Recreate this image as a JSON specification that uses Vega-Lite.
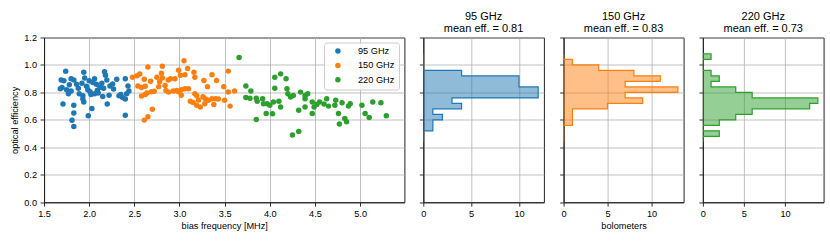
{
"$schema": "https://vega.github.io/schema/vega-lite/v6.json",
"padding": {"left": 10, "top": 9.5, "right": 5, "bottom": 5},
"spacing": 13.3,
"resolve": {"legend": {"color": "independent"}, "scale": {"color": "independent"}},
"config": {
  "font": "Liberation Sans",
  "view": {"stroke": "#222222", "strokeWidth": 1},
  "axis": {"labelFontSize": 9.2, "titleFontSize": 9.2, "titleFontWeight": "normal", "labelColor": "#000000", "titleColor": "#000000", "tickColor": "#000000", "tickSize": 4, "tickWidth": 0.8, "domain": true, "domainColor": "#222222", "domainWidth": 1.1, "gridColor": "#b0b0b0", "gridWidth": 0.8, "labelPadding": 3, "titlePadding": 3, "labelFlush": false, "minExtent": 0, "zindex": 1},
  "axisY": {"labelPadding": 3.5, "titlePadding": 4},
  "title": {"fontSize": 11, "fontWeight": "normal", "color": "#000000", "lineHeight": 12.5, "offset": 2.7}
},
"datasets": {
  "points": [
    {"band":"95 GHz","freq":1.74,"eff":0.954},{"band":"95 GHz","freq":1.94,"eff":0.946},{"band":"95 GHz","freq":2.17,"eff":0.95},{"band":"95 GHz","freq":2.18,"eff":0.925},
    {"band":"95 GHz","freq":1.69,"eff":0.89},{"band":"95 GHz","freq":1.72,"eff":0.885},{"band":"95 GHz","freq":1.80,"eff":0.90},{"band":"95 GHz","freq":1.83,"eff":0.89},{"band":"95 GHz","freq":2.00,"eff":0.885},{"band":"95 GHz","freq":2.06,"eff":0.90},{"band":"95 GHz","freq":2.195,"eff":0.89},{"band":"95 GHz","freq":2.305,"eff":0.895},{"band":"95 GHz","freq":2.40,"eff":0.90},{"band":"95 GHz","freq":1.95,"eff":0.905},
    {"band":"95 GHz","freq":1.86,"eff":0.86},{"band":"95 GHz","freq":1.92,"eff":0.866},{"band":"95 GHz","freq":1.97,"eff":0.845},{"band":"95 GHz","freq":2.08,"eff":0.86},{"band":"95 GHz","freq":2.14,"eff":0.866},{"band":"95 GHz","freq":2.23,"eff":0.846},{"band":"95 GHz","freq":2.43,"eff":0.846},{"band":"95 GHz","freq":1.78,"eff":0.855},{"band":"95 GHz","freq":2.04,"eff":0.872},{"band":"95 GHz","freq":2.26,"eff":0.862},
    {"band":"95 GHz","freq":1.68,"eff":0.827},{"band":"95 GHz","freq":1.75,"eff":0.82},{"band":"95 GHz","freq":1.80,"eff":0.81},{"band":"95 GHz","freq":1.985,"eff":0.82},{"band":"95 GHz","freq":2.01,"eff":0.805},{"band":"95 GHz","freq":2.16,"eff":0.83},{"band":"95 GHz","freq":1.70,"eff":0.835},{"band":"95 GHz","freq":1.88,"eff":0.83},{"band":"95 GHz","freq":2.09,"eff":0.815},{"band":"95 GHz","freq":2.12,"eff":0.838},{"band":"95 GHz","freq":2.27,"eff":0.825},{"band":"95 GHz","freq":2.44,"eff":0.81},
    {"band":"95 GHz","freq":1.89,"eff":0.79},{"band":"95 GHz","freq":2.06,"eff":0.79},{"band":"95 GHz","freq":2.10,"eff":0.795},{"band":"95 GHz","freq":2.15,"eff":0.77},{"band":"95 GHz","freq":2.35,"eff":0.785},{"band":"95 GHz","freq":2.37,"eff":0.763},{"band":"95 GHz","freq":2.415,"eff":0.79},{"band":"95 GHz","freq":1.77,"eff":0.79},{"band":"95 GHz","freq":1.93,"eff":0.775},{"band":"95 GHz","freq":2.02,"eff":0.785},{"band":"95 GHz","freq":2.22,"eff":0.78},{"band":"95 GHz","freq":2.33,"eff":0.775},
    {"band":"95 GHz","freq":1.93,"eff":0.752},{"band":"95 GHz","freq":1.94,"eff":0.73},{"band":"95 GHz","freq":2.40,"eff":0.752},
    {"band":"95 GHz","freq":1.71,"eff":0.715},{"band":"95 GHz","freq":1.83,"eff":0.707},{"band":"95 GHz","freq":2.03,"eff":0.683},{"band":"95 GHz","freq":2.20,"eff":0.715},
    {"band":"95 GHz","freq":1.83,"eff":0.65},{"band":"95 GHz","freq":1.99,"eff":0.63},{"band":"95 GHz","freq":2.40,"eff":0.634},{"band":"95 GHz","freq":1.81,"eff":0.597},{"band":"95 GHz","freq":1.83,"eff":0.551},
    {"band":"150 GHz","freq":3.05,"eff":1.03},
    {"band":"150 GHz","freq":2.65,"eff":0.985},{"band":"150 GHz","freq":2.81,"eff":0.99},{"band":"150 GHz","freq":3.09,"eff":0.975},{"band":"150 GHz","freq":2.99,"eff":0.962},
    {"band":"150 GHz","freq":2.56,"eff":0.934},{"band":"150 GHz","freq":2.80,"eff":0.94},{"band":"150 GHz","freq":3.01,"eff":0.925},{"band":"150 GHz","freq":3.06,"eff":0.928},{"band":"150 GHz","freq":3.16,"eff":0.947},{"band":"150 GHz","freq":3.36,"eff":0.928},{"band":"150 GHz","freq":3.54,"eff":0.955},{"band":"150 GHz","freq":2.53,"eff":0.922},
    {"band":"150 GHz","freq":2.48,"eff":0.91},{"band":"150 GHz","freq":2.61,"eff":0.895},{"band":"150 GHz","freq":2.75,"eff":0.91},{"band":"150 GHz","freq":2.81,"eff":0.905},{"band":"150 GHz","freq":2.90,"eff":0.90},{"band":"150 GHz","freq":2.95,"eff":0.90},{"band":"150 GHz","freq":3.17,"eff":0.91},{"band":"150 GHz","freq":2.875,"eff":0.89},{"band":"150 GHz","freq":3.27,"eff":0.887},{"band":"150 GHz","freq":3.41,"eff":0.887},{"band":"150 GHz","freq":2.68,"eff":0.882},
    {"band":"150 GHz","freq":2.54,"eff":0.846},{"band":"150 GHz","freq":2.62,"eff":0.845},{"band":"150 GHz","freq":2.77,"eff":0.842},{"band":"150 GHz","freq":2.84,"eff":0.85},{"band":"150 GHz","freq":2.78,"eff":0.878},{"band":"150 GHz","freq":3.31,"eff":0.842},{"band":"150 GHz","freq":3.49,"eff":0.842},
    {"band":"150 GHz","freq":2.69,"eff":0.805},{"band":"150 GHz","freq":2.72,"eff":0.808},{"band":"150 GHz","freq":2.85,"eff":0.814},{"band":"150 GHz","freq":2.88,"eff":0.802},{"band":"150 GHz","freq":2.97,"eff":0.814},{"band":"150 GHz","freq":3.06,"eff":0.826},{"band":"150 GHz","freq":3.10,"eff":0.826},{"band":"150 GHz","freq":3.02,"eff":0.82},{"band":"150 GHz","freq":3.54,"eff":0.803},{"band":"150 GHz","freq":3.61,"eff":0.81},{"band":"150 GHz","freq":2.93,"eff":0.81},{"band":"150 GHz","freq":2.99,"eff":0.804},{"band":"150 GHz","freq":2.58,"eff":0.835},
    {"band":"150 GHz","freq":2.58,"eff":0.773},{"band":"150 GHz","freq":2.62,"eff":0.785},{"band":"150 GHz","freq":3.02,"eff":0.78},{"band":"150 GHz","freq":3.17,"eff":0.79},{"band":"150 GHz","freq":3.19,"eff":0.778},{"band":"150 GHz","freq":3.26,"eff":0.768},{"band":"150 GHz","freq":2.64,"eff":0.795},
    {"band":"150 GHz","freq":3.12,"eff":0.735},{"band":"150 GHz","freq":3.285,"eff":0.754},{"band":"150 GHz","freq":3.32,"eff":0.742},{"band":"150 GHz","freq":3.36,"eff":0.754},{"band":"150 GHz","freq":3.40,"eff":0.754},{"band":"150 GHz","freq":3.43,"eff":0.752},{"band":"150 GHz","freq":3.50,"eff":0.742},{"band":"150 GHz","freq":3.21,"eff":0.745},{"band":"150 GHz","freq":3.15,"eff":0.726},
    {"band":"150 GHz","freq":3.19,"eff":0.706},{"band":"150 GHz","freq":3.23,"eff":0.694},{"band":"150 GHz","freq":3.28,"eff":0.718},{"band":"150 GHz","freq":3.56,"eff":0.70},{"band":"150 GHz","freq":3.38,"eff":0.712},
    {"band":"150 GHz","freq":2.70,"eff":0.678},{"band":"150 GHz","freq":2.65,"eff":0.622},{"band":"150 GHz","freq":2.61,"eff":0.598},
    {"band":"220 GHz","freq":3.66,"eff":1.055},
    {"band":"220 GHz","freq":4.12,"eff":0.935},
    {"band":"220 GHz","freq":4.055,"eff":0.91},{"band":"220 GHz","freq":4.18,"eff":0.90},
    {"band":"220 GHz","freq":3.735,"eff":0.846},
    {"band":"220 GHz","freq":3.79,"eff":0.81},{"band":"220 GHz","freq":4.055,"eff":0.83},{"band":"220 GHz","freq":4.19,"eff":0.826},{"band":"220 GHz","freq":4.34,"eff":0.802},
    {"band":"220 GHz","freq":4.20,"eff":0.79},{"band":"220 GHz","freq":4.23,"eff":0.766},{"band":"220 GHz","freq":4.26,"eff":0.778},{"band":"220 GHz","freq":4.39,"eff":0.778},{"band":"220 GHz","freq":4.42,"eff":0.79},{"band":"220 GHz","freq":3.735,"eff":0.762},
    {"band":"220 GHz","freq":3.78,"eff":0.758},{"band":"220 GHz","freq":3.85,"eff":0.757},{"band":"220 GHz","freq":3.86,"eff":0.735},{"band":"220 GHz","freq":3.92,"eff":0.754},{"band":"220 GHz","freq":4.04,"eff":0.73},{"band":"220 GHz","freq":4.10,"eff":0.735},{"band":"220 GHz","freq":4.39,"eff":0.754},{"band":"220 GHz","freq":4.47,"eff":0.73},{"band":"220 GHz","freq":4.55,"eff":0.73},{"band":"220 GHz","freq":4.63,"eff":0.754},{"band":"220 GHz","freq":4.73,"eff":0.742},{"band":"220 GHz","freq":4.80,"eff":0.725},{"band":"220 GHz","freq":5.14,"eff":0.73},{"band":"220 GHz","freq":5.23,"eff":0.725},
    {"band":"220 GHz","freq":3.93,"eff":0.718},{"band":"220 GHz","freq":3.97,"eff":0.718},{"band":"220 GHz","freq":4.00,"eff":0.706},{"band":"220 GHz","freq":4.12,"eff":0.694},{"band":"220 GHz","freq":4.39,"eff":0.694},{"band":"220 GHz","freq":4.49,"eff":0.694},{"band":"220 GHz","freq":4.65,"eff":0.70},{"band":"220 GHz","freq":4.72,"eff":0.706},{"band":"220 GHz","freq":4.87,"eff":0.70},{"band":"220 GHz","freq":4.89,"eff":0.718},{"band":"220 GHz","freq":5.02,"eff":0.706},{"band":"220 GHz","freq":4.52,"eff":0.712},{"band":"220 GHz","freq":4.60,"eff":0.716},
    {"band":"220 GHz","freq":3.96,"eff":0.646},{"band":"220 GHz","freq":4.03,"eff":0.645},{"band":"220 GHz","freq":4.32,"eff":0.67},{"band":"220 GHz","freq":4.47,"eff":0.646},{"band":"220 GHz","freq":4.76,"eff":0.646},{"band":"220 GHz","freq":5.055,"eff":0.646},
    {"band":"220 GHz","freq":3.85,"eff":0.603},{"band":"220 GHz","freq":5.10,"eff":0.617},{"band":"220 GHz","freq":5.29,"eff":0.629},{"band":"220 GHz","freq":4.83,"eff":0.61},
    {"band":"220 GHz","freq":4.77,"eff":0.569},{"band":"220 GHz","freq":4.85,"eff":0.586},
    {"band":"220 GHz","freq":4.25,"eff":0.49},{"band":"220 GHz","freq":4.32,"eff":0.515}
  ],
  "hist": [
    {"band":"95 GHz","lo":0.44,"n":0},{"band":"95 GHz","lo":0.48,"n":0},{"band":"95 GHz","lo":0.52,"n":1},{"band":"95 GHz","lo":0.56,"n":1},{"band":"95 GHz","lo":0.60,"n":2},{"band":"95 GHz","lo":0.64,"n":1},{"band":"95 GHz","lo":0.68,"n":4},{"band":"95 GHz","lo":0.72,"n":3},{"band":"95 GHz","lo":0.76,"n":12},{"band":"95 GHz","lo":0.80,"n":12},{"band":"95 GHz","lo":0.84,"n":10},{"band":"95 GHz","lo":0.88,"n":10},{"band":"95 GHz","lo":0.92,"n":4},{"band":"95 GHz","lo":0.96,"n":0},{"band":"95 GHz","lo":1.00,"n":0},{"band":"95 GHz","lo":1.04,"n":0},{"band":"95 GHz","lo":1.08,"n":0},
    {"band":"150 GHz","lo":0.44,"n":0},{"band":"150 GHz","lo":0.48,"n":0},{"band":"150 GHz","lo":0.52,"n":0},{"band":"150 GHz","lo":0.56,"n":1},{"band":"150 GHz","lo":0.60,"n":1},{"band":"150 GHz","lo":0.64,"n":1},{"band":"150 GHz","lo":0.68,"n":5},{"band":"150 GHz","lo":0.72,"n":9},{"band":"150 GHz","lo":0.76,"n":7},{"band":"150 GHz","lo":0.80,"n":13},{"band":"150 GHz","lo":0.84,"n":7},{"band":"150 GHz","lo":0.88,"n":11},{"band":"150 GHz","lo":0.92,"n":8},{"band":"150 GHz","lo":0.96,"n":4},{"band":"150 GHz","lo":1.00,"n":1},{"band":"150 GHz","lo":1.04,"n":0},{"band":"150 GHz","lo":1.08,"n":0},
    {"band":"220 GHz","lo":0.44,"n":0},{"band":"220 GHz","lo":0.48,"n":2},{"band":"220 GHz","lo":0.52,"n":0},{"band":"220 GHz","lo":0.56,"n":2},{"band":"220 GHz","lo":0.60,"n":4},{"band":"220 GHz","lo":0.64,"n":6},{"band":"220 GHz","lo":0.68,"n":13},{"band":"220 GHz","lo":0.72,"n":14},{"band":"220 GHz","lo":0.76,"n":6},{"band":"220 GHz","lo":0.80,"n":4},{"band":"220 GHz","lo":0.84,"n":1},{"band":"220 GHz","lo":0.88,"n":2},{"band":"220 GHz","lo":0.92,"n":1},{"band":"220 GHz","lo":0.96,"n":0},{"band":"220 GHz","lo":1.00,"n":0},{"band":"220 GHz","lo":1.04,"n":1},{"band":"220 GHz","lo":1.08,"n":0}
  ]
},
"hconcat": [
  {
    "width": 360.4, "height": 164.7,
    "data": {"name": "points"},
    "mark": {"type": "circle", "size": 30, "opacity": 1},
    "encoding": {
      "x": {"field": "freq", "type": "quantitative", "scale": {"domain": [1.5, 5.49], "nice": false, "zero": false}, "axis": {"values": [1.5, 2, 2.5, 3, 3.5, 4, 4.5, 5], "format": ".1f", "title": "bias frequency [MHz]"}},
      "y": {"field": "eff", "type": "quantitative", "scale": {"domain": [0, 1.2], "nice": false}, "axis": {"values": [0, 0.2, 0.4, 0.6, 0.8, 1.0, 1.2], "format": ".1f", "title": "optical efficiency"}},
      "color": {"field": "band", "type": "nominal", "sort": null, "scale": {"domain": ["95 GHz", "150 GHz", "220 GHz"], "range": ["#1f77b4", "#ff7f0e", "#2ca02c"]},
        "legend": {"title": null, "orient": "top-right", "offset": 5.3, "padding": 4, "rowPadding": 4.3, "symbolType": "circle", "symbolSize": 30, "symbolStrokeWidth": 0, "labelFontSize": 9.2, "labelColor": "#000000", "strokeColor": "#cccccc", "fillColor": "rgba(255,255,255,0.8)", "cornerRadius": 2.5, "symbolOffset": 5.3, "labelOffset": 15.5}}
    }
  },
  {
    "width": 120.6, "height": 164.7,
    "title": {"text": ["95 GHz", "mean eff. = 0.81"]},
    "data": {"name": "hist"},
    "transform": [{"filter": "datum.band === '95 GHz'"}],
    "encoding": {
      "y": {"field": "lo", "type": "quantitative", "scale": {"domain": [0, 1.2], "nice": false}, "axis": {"values": [0, 0.2, 0.4, 0.6, 0.8, 1.0, 1.2], "labels": false, "title": null}},
      "x": {"field": "n", "type": "quantitative", "scale": {"domain": [0, 12.6], "nice": false}, "axis": {"values": [0, 5, 10], "title": null}}
    },
    "layer": [
      {"mark": {"type": "area", "orient": "horizontal", "interpolate": "step-after", "color": "#1f77b4", "fillOpacity": 0.5}},
      {"mark": {"type": "line", "interpolate": "step-before", "color": "#1f77b4", "strokeWidth": 1.2, "clip": true}, "encoding": {"order": {"field": "lo", "type": "quantitative"}}}
    ]
  },
  {
    "width": 120, "height": 164.7,
    "title": {"text": ["150 GHz", "mean eff. = 0.83"]},
    "data": {"name": "hist"},
    "transform": [{"filter": "datum.band === '150 GHz'"}],
    "encoding": {
      "y": {"field": "lo", "type": "quantitative", "scale": {"domain": [0, 1.2], "nice": false}, "axis": {"values": [0, 0.2, 0.4, 0.6, 0.8, 1.0, 1.2], "labels": false, "title": null}},
      "x": {"field": "n", "type": "quantitative", "scale": {"domain": [0, 13.65], "nice": false}, "axis": {"values": [0, 5, 10], "title": "bolometers"}}
    },
    "layer": [
      {"mark": {"type": "area", "orient": "horizontal", "interpolate": "step-after", "color": "#ff7f0e", "fillOpacity": 0.5}},
      {"mark": {"type": "line", "interpolate": "step-before", "color": "#ff7f0e", "strokeWidth": 1.2, "clip": true}, "encoding": {"order": {"field": "lo", "type": "quantitative"}}}
    ]
  },
  {
    "width": 120.7, "height": 164.7,
    "title": {"text": ["220 GHz", "mean eff. = 0.73"]},
    "data": {"name": "hist"},
    "transform": [{"filter": "datum.band === '220 GHz'"}],
    "encoding": {
      "y": {"field": "lo", "type": "quantitative", "scale": {"domain": [0, 1.2], "nice": false}, "axis": {"values": [0, 0.2, 0.4, 0.6, 0.8, 1.0, 1.2], "labels": false, "title": null}},
      "x": {"field": "n", "type": "quantitative", "scale": {"domain": [0, 14.7], "nice": false}, "axis": {"values": [0, 5, 10], "title": null}}
    },
    "layer": [
      {"mark": {"type": "area", "orient": "horizontal", "interpolate": "step-after", "color": "#2ca02c", "fillOpacity": 0.5}},
      {"mark": {"type": "line", "interpolate": "step-before", "color": "#2ca02c", "strokeWidth": 1.2, "clip": true}, "encoding": {"order": {"field": "lo", "type": "quantitative"}}}
    ]
  }
]
}
